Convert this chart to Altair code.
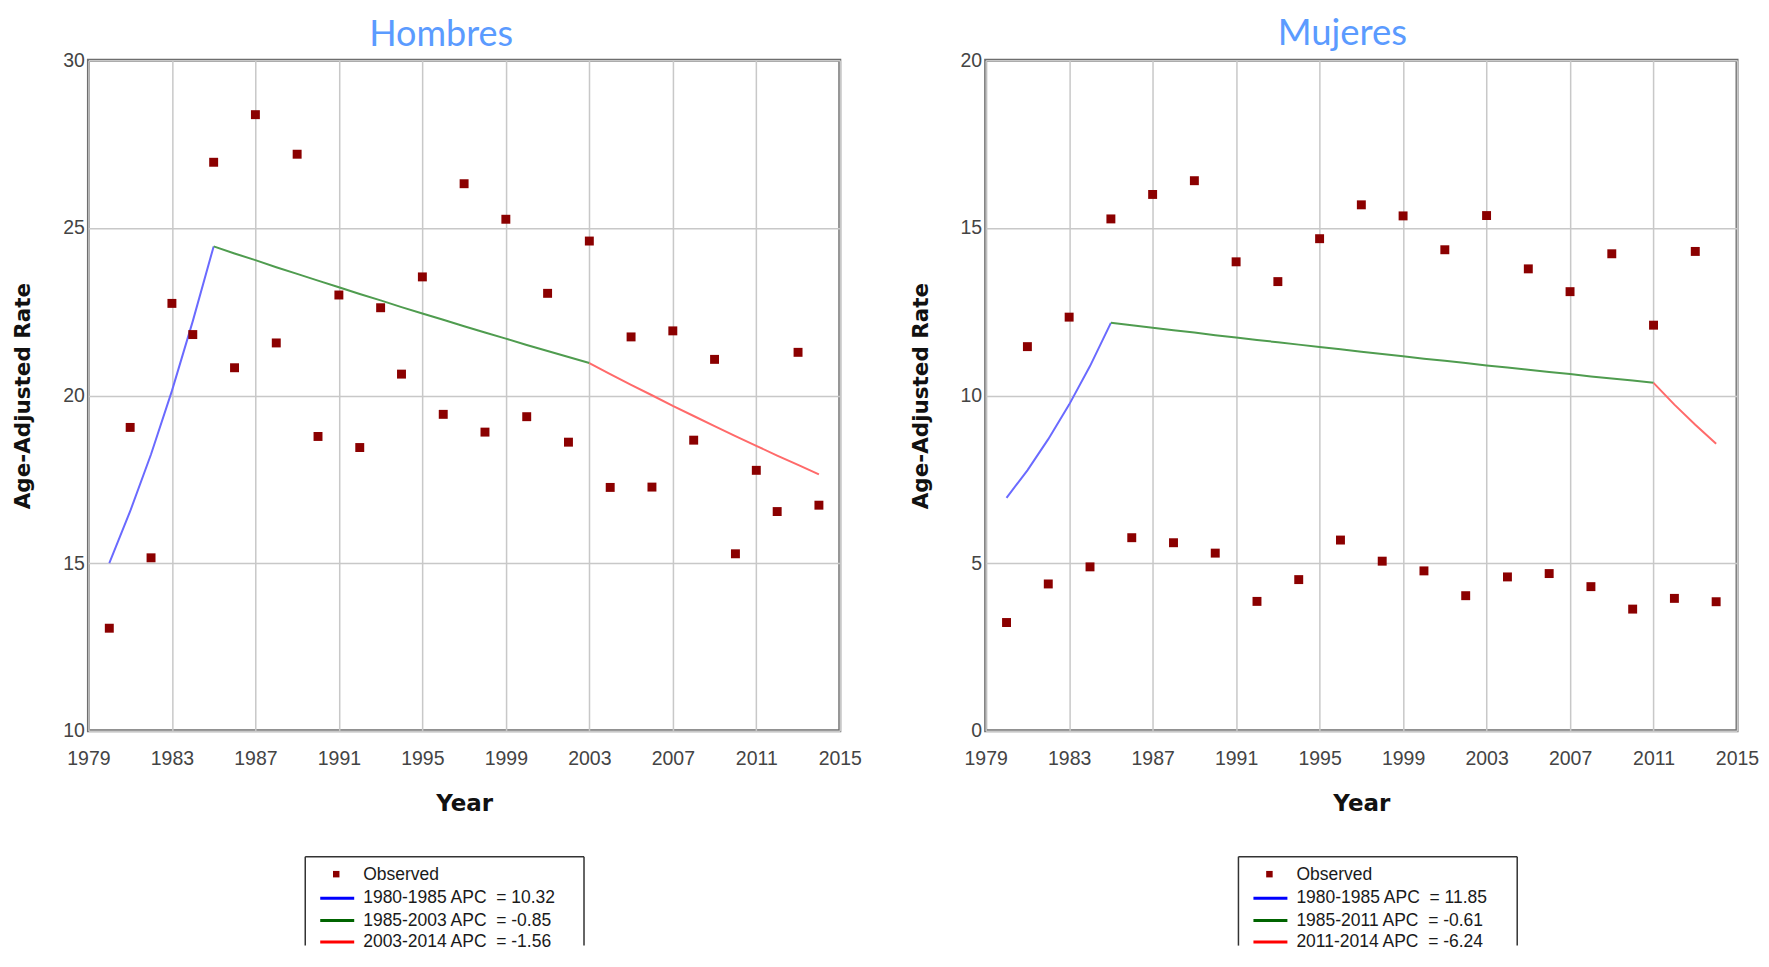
import altair as alt
import pandas as pd

# ---------------- data ----------------
years = list(range(1980, 2015))

hombres_obs = [13.06, 19.05, 15.16, 22.75, 21.82, 26.96, 20.83, 28.38, 21.57, 27.20,
               18.78, 23.00, 18.45, 22.62, 20.64, 23.54, 19.44, 26.32, 18.91, 25.26,
               19.37, 23.05, 18.61, 24.61, 17.26, 21.75, 17.27, 21.93, 18.67, 21.08,
               15.28, 17.77, 16.54, 21.29, 16.73]

mujeres_obs = [3.23, 11.46, 4.38, 12.34, 4.89, 15.27, 5.76, 16.00, 5.61, 16.41,
               5.30, 13.99, 3.86, 13.40, 4.51, 14.68, 5.69, 15.69, 5.06, 15.36,
               4.77, 14.35, 4.03, 15.37, 4.59, 13.78, 4.69, 13.10, 4.30, 14.23,
               3.63, 12.10, 3.95, 14.30, 3.85]

# fitted (joinpoint) segments
h_seg1_years = [1980, 1981, 1982, 1983, 1984, 1985]
h_seg1 = [15.00, 16.55, 18.25, 20.14, 22.22, 24.45]
h_seg2_years = list(range(1985, 2004))
h_seg2 = [24.45, 24.24, 24.04, 23.83, 23.63, 23.43, 23.23, 23.03, 22.84, 22.64,
          22.45, 22.26, 22.07, 21.88, 21.70, 21.51, 21.33, 21.15, 20.97]
h_seg3_years = list(range(2003, 2015))
h_seg3 = [20.97, 20.64, 20.32, 20.01, 19.69, 19.39, 19.09, 18.79, 18.50, 18.21, 17.93, 17.65]

m_seg1_years = [1980, 1981, 1982, 1983, 1984, 1985]
m_seg1 = [6.95, 7.77, 8.70, 9.73, 10.88, 12.17]
m_seg2_years = list(range(1985, 2012))
m_seg2 = [12.17, 12.10, 12.02, 11.95, 11.88, 11.80, 11.73, 11.66, 11.59, 11.52,
          11.45, 11.38, 11.31, 11.24, 11.17, 11.10, 11.04, 10.97, 10.90, 10.84,
          10.77, 10.70, 10.64, 10.57, 10.51, 10.45, 10.38]
m_seg3_years = [2011, 2012, 2013, 2014]
m_seg3 = [10.38, 9.73, 9.13, 8.56]

x_ticks = [1979, 1983, 1987, 1991, 1995, 1999, 2003, 2007, 2011, 2015]
h_y_ticks = [10, 15, 20, 25, 30]
m_y_ticks = [0, 5, 10, 15, 20]

panel_titles = ["Hombres", "Mujeres"]
h_legend = ["Observed", "1980-1985 APC\u00a0\u00a0= 10.32", "1985-2003 APC\u00a0\u00a0= -0.85", "2003-2014 APC\u00a0\u00a0= -1.56"]
m_legend = ["Observed", "1980-1985 APC\u00a0\u00a0= 11.85", "1985-2011 APC\u00a0\u00a0= -0.61", "2011-2014 APC\u00a0\u00a0= -6.24"]

PLOT_W = 752
PLOT_H = 671
TICK_FONT = "Liberation Sans, Arial"
TITLE_FONT = "DejaVu Sans"
LINE_COLORS = ["#6a6aff", "#4f9c4f", "#ff6a6a"]
LEG_COLORS = ["#0000ff", "#006400", "#ff0000"]
ONE = pd.DataFrame({"d": [0]})


def panel(title, title_x, title_y, title_size, obs, segs, ydomain, yticks, legend_labels, box_x0, box_x1):
    pts = pd.DataFrame({"year": years, "rate": obs})
    rows = []
    for i, (yy, vv) in enumerate(segs):
        for a, b in zip(yy, vv):
            rows.append({"year": a, "rate": b, "seg": f"s{i}"})
    lines = pd.DataFrame(rows)

    x = alt.X("year:Q", scale=alt.Scale(domain=[1979, 2015], nice=False, zero=False),
              axis=alt.Axis(values=x_ticks, format="d", title="Year", labelFlush=False,
                            labelPadding=18.5, titlePadding=25, titleFontSize=23))
    y = alt.Y("rate:Q", scale=alt.Scale(domain=ydomain, nice=False, zero=False),
              axis=alt.Axis(values=yticks, title="Age-Adjusted Rate", labelPadding=4,
                            titlePadding=28, titleFontSize=21.5))

    line_layer = alt.Chart(lines).mark_line(strokeWidth=2).encode(
        x=x, y=y,
        color=alt.Color("seg:N", scale=alt.Scale(domain=["s0", "s1", "s2"], range=LINE_COLORS), legend=None),
    )
    pt_layer = alt.Chart(pts).mark_square(size=80, color="#8b0000", opacity=1).encode(x=x, y=y)

    title_layer = alt.Chart(pd.DataFrame({"t": [title]})).mark_text(
        font="Lato", fontSize=title_size, color="#5b9bff", align="center", baseline="alphabetic"
    ).encode(text="t:N", x=alt.value(title_x), y=alt.value(title_y))

    # legend box (open at the bottom, as it runs off the page)
    top = 797
    bot = 886
    lx0 = box_x0 + 15
    lx1 = box_x0 + 49
    mx = box_x0 + 31
    tx = box_x0 + 58
    row_y = [815.5, 838.5, 861, 882.5]
    leg = []
    leg.append(alt.Chart(ONE).mark_rect(fill="white").encode(
        x=alt.value(box_x0), x2=alt.value(box_x1), y=alt.value(top), y2=alt.value(bot)))
    leg.append(alt.Chart(ONE).mark_rule(color="#333333", strokeWidth=1.5).encode(
        x=alt.value(box_x0), x2=alt.value(box_x1), y=alt.value(top)))
    for xv in [box_x0, box_x1]:
        leg.append(alt.Chart(ONE).mark_rule(color="#333333", strokeWidth=1.5).encode(
            x=alt.value(xv), y=alt.value(top), y2=alt.value(bot)))
    leg.append(alt.Chart(ONE).mark_square(size=42, color="#8b0000", opacity=1).encode(
        x=alt.value(mx), y=alt.value(row_y[0] - 1)))
    for i in range(3):
        leg.append(alt.Chart(ONE).mark_rule(color=LEG_COLORS[i], strokeWidth=3).encode(
            x=alt.value(lx0), x2=alt.value(lx1), y=alt.value(row_y[i + 1])))
    for i, lab in enumerate(legend_labels):
        leg.append(alt.Chart(pd.DataFrame({"t": [lab]})).mark_text(
            align="left", baseline="middle", font=TICK_FONT, fontSize=17.5, color="#1a1a1a").encode(
            text="t:N", x=alt.value(tx), y=alt.value(row_y[i])))

    return alt.layer(line_layer, pt_layer, title_layer, *leg).properties(
        width=PLOT_W, height=PLOT_H,
    )


left = panel(panel_titles[0], 353, -14, 36, hombres_obs,
             [(h_seg1_years, h_seg1), (h_seg2_years, h_seg2), (h_seg3_years, h_seg3)],
             [10, 30], h_y_ticks, h_legend, 217, 496)
right = panel(panel_titles[1], 357, -15, 36.5, mujeres_obs,
              [(m_seg1_years, m_seg1), (m_seg2_years, m_seg2), (m_seg3_years, m_seg3)],
              [0, 20], m_y_ticks, m_legend, 253, 532)

chart = alt.hconcat(left, right, spacing=146, bounds="flush").resolve_scale(
    y="independent", x="independent", color="independent"
).configure(
    padding={"left": 2.5, "top": 6, "right": 0, "bottom": 0},
    background="white",
).configure_view(
    stroke="#6e6e6e", strokeWidth=3,
).configure_axis(
    grid=True, gridColor="#c8c8c8", gridWidth=1.5, domain=False, ticks=False,
    labelFont=TICK_FONT, labelFontSize=19.5, labelColor="#444444",
    titleFont=TITLE_FONT, titleFontWeight="bold", titleColor="#111111",
)

chart.save("out.html", embed_options={"renderer": "svg", "actions": False})
